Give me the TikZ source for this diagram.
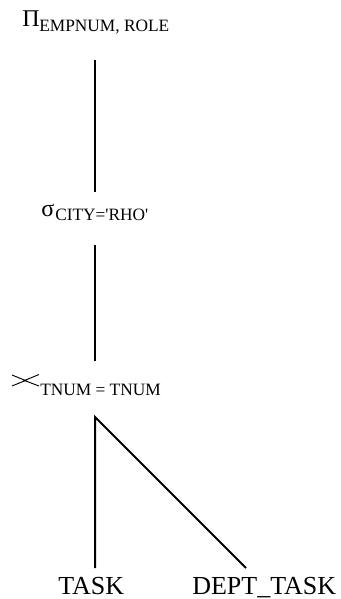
\documentclass[tikz,border=0pt]{standalone}
\usepackage{fontspec}
\setmainfont{Liberation Serif}
\begin{document}
\begin{tikzpicture}[x=0.75pt,y=-0.75pt,
  big/.style={inner sep=0pt,anchor=base west,font=\fontsize{18pt}{20pt}\selectfont},
  sub/.style={inner sep=0pt,anchor=base west,font=\fontsize{13pt}{15pt}\selectfont},
  rel/.style={inner sep=0pt,anchor=base west,font=\fontsize{19.5pt}{22pt}\selectfont},
  edge/.style={line width=1.5pt},
  thin/.style={line width=0.7pt}]
\useasboundingbox (0,0) rectangle (340,599);
% projection
\node[big] (pi) at (22,26.5) {Π};
\node[sub] (pisub) at (39,31.5) {EMPNUM, ROLE};
% selection
\node[big] (sig) at (41,216) {σ};
\node[sub] (sigsub) at (55,220) {\addfontfeature{Ligatures=TeXOff}CITY='RHO'};
% join
\node[sub] (joinsub) at (40,395) {TNUM = TNUM};
\coordinate (j1) at (12,375);
\coordinate (j2) at (25.5,380.5);
\coordinate (j3) at (12,386);
\coordinate (j4) at (39,374.5);
\coordinate (j5) at (24.5,380.5);
\coordinate (j6) at (39,386);
\draw[thin] (j1) -- (j2) -- (j3);
\draw[thin] (j4) -- (j5) -- (j6);
% relations
\node[rel] (task) at (58,594) {TASK};
\node[rel] (dept) at (192,594) {DEPT\_TASK};
% connector endpoints
\coordinate (a1) at (95,60);
\coordinate (a2) at (95,192);
\coordinate (b1) at (95,245);
\coordinate (b2) at (95,361);
\coordinate (c) at (95,417);
\coordinate (d1) at (95,568);
\coordinate (d2) at (246,568);
\draw[edge] (a1) -- (a2);
\draw[edge] (b1) -- (b2);
\draw[edge] (d1) -- (c) -- (d2);
\end{tikzpicture}
\end{document}
